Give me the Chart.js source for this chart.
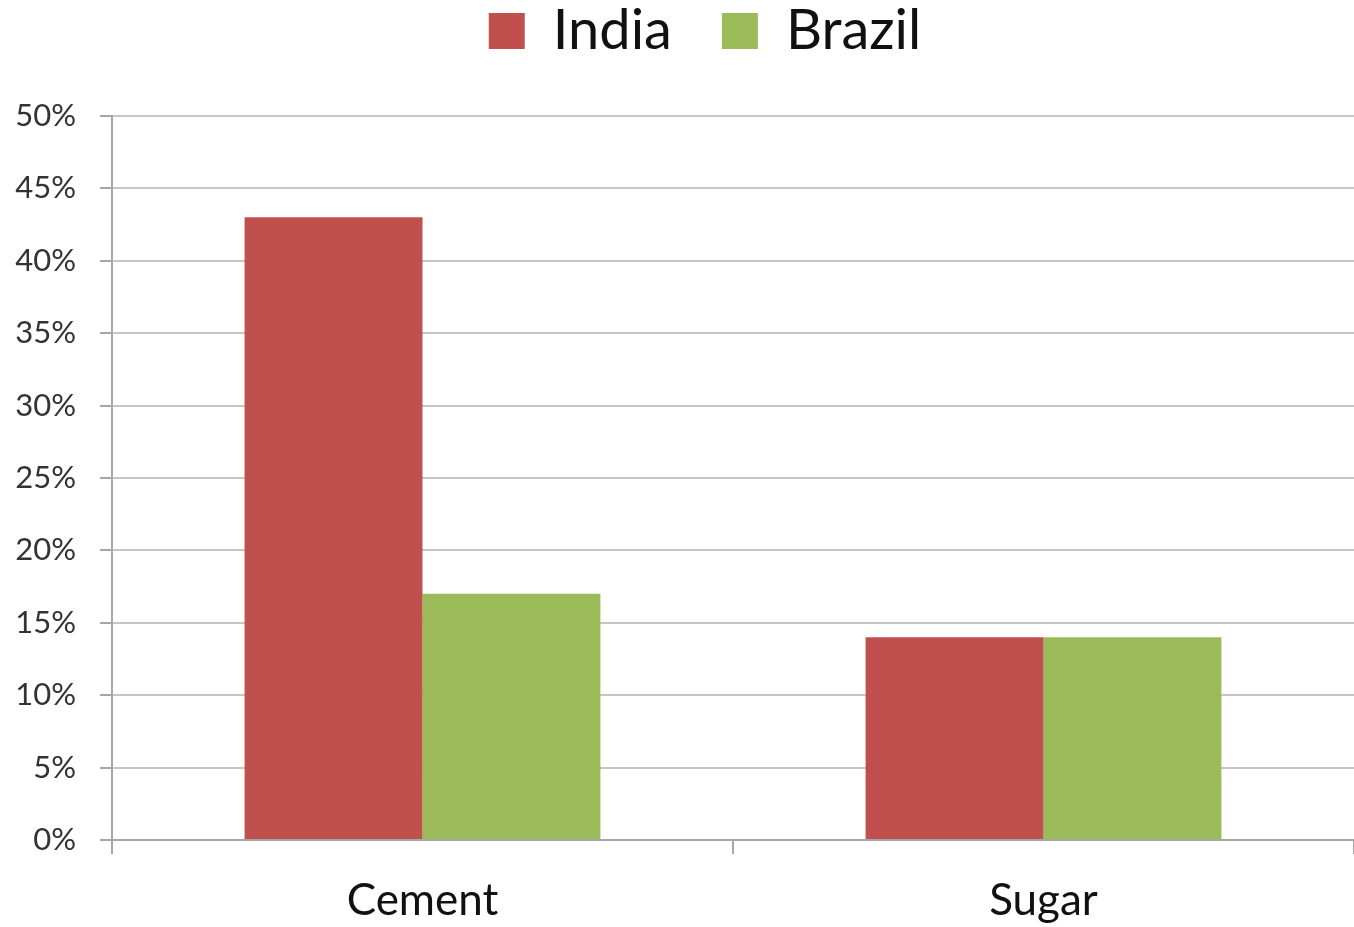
<!DOCTYPE html>
<html>
<head>
<meta charset="utf-8">
<script src="https://cdn.jsdelivr.net/npm/chart.js@4/dist/chart.umd.min.js"></script>
<style>
  html, body { margin: 0; padding: 0; background: #fff; }
  #wrap { width: 1354px; height: 927px; }
</style>
</head>
<body>
<div id="wrap"><canvas id="shareChart"></canvas></div>
<script>
// Data
const categories = ["Cement", "Sugar"];
const india = [43, 14];
const brazil = [17, 14];
const yTicks = [0, 5, 10, 15, 20, 25, 30, 35, 40, 45, 50];

const font = "Lato, 'Open Sans', sans-serif";
const gridColor = "#c6c6c6";

// legend: wide item spacing, drawn close to the top edge
const legendTweak = {
  id: "legendTweak",
  beforeInit(chart) {
    const lg = chart.legend;
    const draw = lg.draw;
    lg.draw = function () {
      const box = { top: this.top, bottom: this.bottom, left: this.left, right: this.right };
      this.top -= 47; this.bottom -= 47;
      this.left += 28; this.right += 28;
      draw.call(this);
      Object.assign(this, box);
    };
  }
};

const ctx = document.getElementById("shareChart").getContext("2d");

new Chart(ctx, {
  type: "bar",
  data: {
    labels: categories,
    datasets: [
      { label: "India", data: india, backgroundColor: "#c0504d" },
      { label: "Brazil", data: brazil, backgroundColor: "#9bbb59" }
    ]
  },
  plugins: [legendTweak],
  options: {
    responsive: true,
    maintainAspectRatio: false,
    animation: false,
    layout: { padding: 0 },
    datasets: {
      bar: { categoryPercentage: 0.573, barPercentage: 1.0 }
    },
    plugins: {
      legend: {
        position: "top",
        labels: {
          font: { family: font, size: 56 },
          color: "#111",
          boxWidth: 36,
          boxHeight: 36,
          padding: 50
        }
      },
      tooltip: { enabled: false }
    },
    scales: {
      x: {
        afterFit: (s) => { s.height = 87; },
        offset: true,
        grid: {
          display: true,
          offset: true,
          drawOnChartArea: false,
          tickLength: 14,
          color: "#a6a6a6",
          lineWidth: 2
        },
        border: { display: true, color: "#a6a6a6", width: 2 },
        ticks: {
          font: { family: font, size: 44 },
          color: "#111",
          padding: 20
        }
      },
      y: {
        afterFit: (s) => { s.width = 112; },
        min: 0,
        max: 50,
        afterBuildTicks: (s) => { s.ticks = yTicks.map(v => ({ value: v })); },
        grid: {
          color: gridColor,
          lineWidth: 2,
          tickLength: 12,
          tickColor: "#a6a6a6"
        },
        border: { display: true, color: "#a6a6a6", width: 2 },
        ticks: {
          font: { family: font, size: 31 },
          color: "#333",
          padding: 24,
          callback: (v) => v + "%"
        }
      }
    }
  }
});
</script>
</body>
</html>
